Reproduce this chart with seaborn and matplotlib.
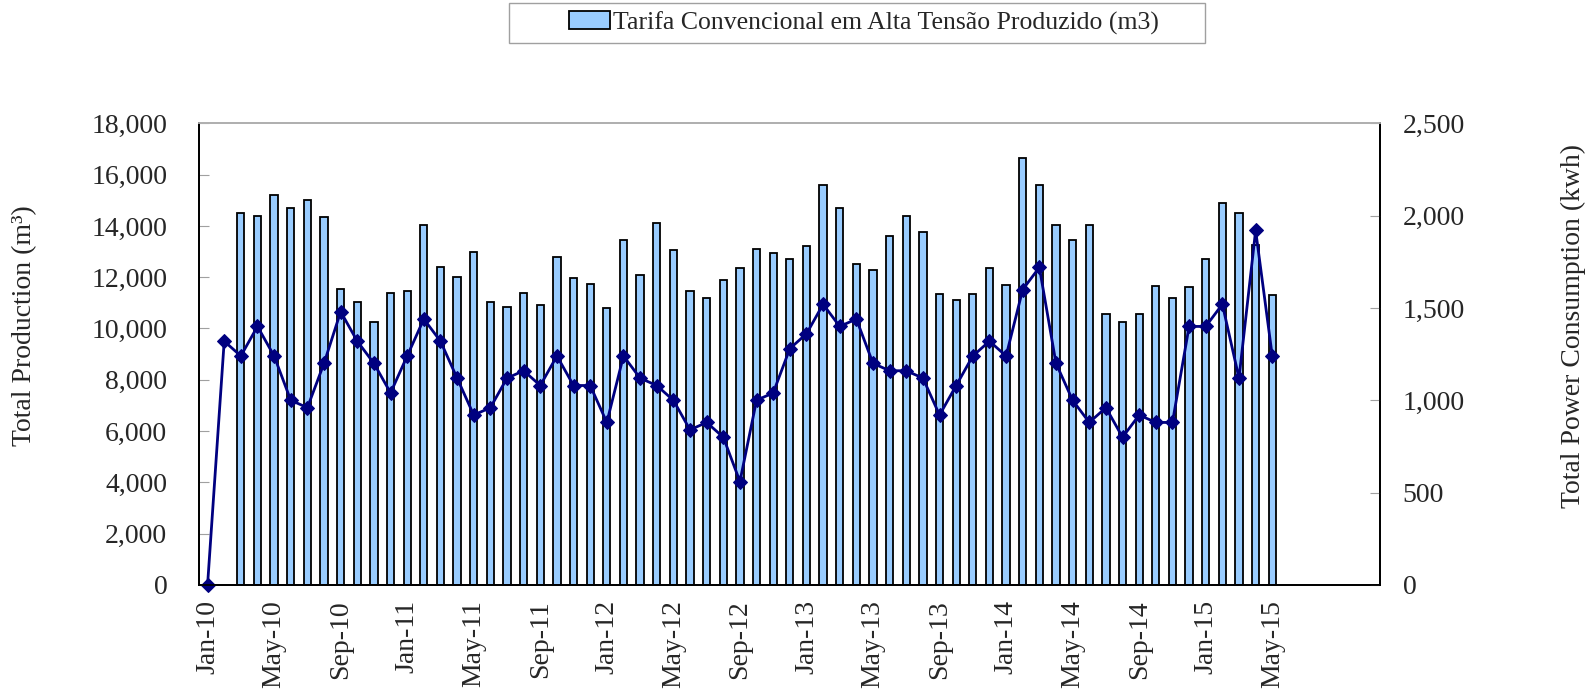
import numpy as np
import pandas as pd
import matplotlib
matplotlib.use("Agg")
import matplotlib.pyplot as plt
import seaborn as sns
from matplotlib.patches import Patch, Rectangle
from matplotlib.ticker import FuncFormatter, FixedLocator

# monthly categories on the axis: Jan-10 .. Nov-15
months = pd.date_range("2010-01-01", periods=71, freq="MS").strftime("%b-%y").tolist()

# production (m3), Mar-10 .. May-15
prod_months = months[2:65]
production = [
    14500, 14400, 15200, 14700, 15000, 14350, 11550, 11050, 10250, 11400,
    11450, 14050, 12400, 12000, 13000, 11050, 10850, 11400, 10900, 12800, 11950, 11750,
    10800, 13450, 12100, 14100, 13050, 11450, 11200, 11900, 12350, 13100, 12950, 12700,
    13200, 15600, 14700, 12500, 12300, 13600, 14400, 13750, 11350, 11100, 11350, 12350,
    11700, 16650, 15600, 14050, 13450, 14050, 10550, 10250, 10550, 11650, 11200, 11600,
    12700, 14900, 14500, 13250, 11300,
]

# power consumption (kwh), Jan-10 .. May-15
power_months = months[:65]
power = [
    0, 1320, 1240, 1400, 1240, 1000, 960, 1200, 1480, 1320, 1200, 1040,
    1240, 1440, 1320, 1120, 920, 960, 1120, 1160, 1080, 1240, 1080, 1080,
    880, 1240, 1120, 1080, 1000, 840, 880, 800, 560, 1000, 1040, 1280,
    1360, 1520, 1400, 1440, 1200, 1160, 1160, 1120, 920, 1080, 1240, 1320,
    1240, 1600, 1720, 1200, 1000, 880, 960, 800, 920, 880, 880, 1400,
    1400, 1520, 1120, 1920, 1240,
]

legend_label = "Tarifa Convencional em Alta Tensão Produzido (m3)"

sns.set_style("white")
plt.rcParams["font.family"] = ["Liberation Serif", "DejaVu Serif"]

bar_df = pd.DataFrame({"month": prod_months, "production": production})
pos = [months.index(m) for m in power_months]

fig = plt.figure(figsize=(15.94, 6.93), dpi=100)
ax = fig.add_axes([0.125, 0.156, 0.741, 0.666])

sns.barplot(data=bar_df, x="month", y="production", order=months, ax=ax,
            color="#99CCFF", saturation=1, edgecolor="black", linewidth=1.3, width=0.44)

ax2 = ax.twinx()
sns.lineplot(x=pos, y=power, ax=ax2, color="#000080", linewidth=2,
             marker="D", markersize=7, markeredgecolor="#000080", clip_on=False)

ax.set_xlim(-0.5, len(months) - 0.5)
ax.set_ylim(0, 18000)
ax2.set_ylim(0, 2500)
ax.set_yticks(np.arange(0, 18001, 2000))
ax2.set_yticks(np.arange(0, 2501, 500))
fmt = FuncFormatter(lambda v, p: f"{int(v):,}")
ax.yaxis.set_major_formatter(fmt)
ax2.yaxis.set_major_formatter(fmt)

# every 4th month labelled, tick marks between categories
lab_pos = list(range(0, 65, 4))
ax.xaxis.set_major_locator(FixedLocator(lab_pos))
ax.set_xticklabels([months[i] for i in lab_pos], rotation=90)
ax.xaxis.set_minor_locator(FixedLocator(np.arange(0.5, len(months) - 0.5, 1)))
ax.tick_params(axis="x", which="major", length=0, pad=11, labelsize=20)
ax.tick_params(axis="x", which="minor", direction="in", length=6, color="#b0b0b0", width=1)
ax.tick_params(axis="y", direction="in", length=7, color="#a0a0a0", labelsize=20, pad=23)
ax2.tick_params(axis="y", direction="in", length=7, color="#a0a0a0", labelsize=20, pad=16)

ax.set_xlabel("")
ax.set_ylabel("")
ax2.set_ylabel("")
fig.text(25 / 1594, 0.530, "Total Production (m³)", fontsize=20, rotation=90,
         ha="center", va="center")
fig.text(1573 / 1594, 0.530, "Total Power Consumption (kwh)", fontsize=20, rotation=90,
         ha="center", va="center")

for a in (ax, ax2):
    for s in a.spines.values():
        s.set_color("black")
        s.set_linewidth(1.3)
    a.spines["top"].set_color("#b0b0b0")

# legend box at the top
fig.patches.append(Rectangle((509 / 1594, 0.938), 696 / 1594, 40 / 693, transform=fig.transFigure,
                             facecolor="white", edgecolor="#a0a0a0", linewidth=1))
handle = Patch(facecolor="#99CCFF", edgecolor="black", linewidth=1.3)
fig.legend([handle], [legend_label], loc="center", bbox_to_anchor=(0.5418, 0.967),
           fontsize=18.5, frameon=False, handlelength=1.6, handletextpad=0.1,
           borderpad=0, borderaxespad=0)

fig.savefig("out.png", dpi=100)
